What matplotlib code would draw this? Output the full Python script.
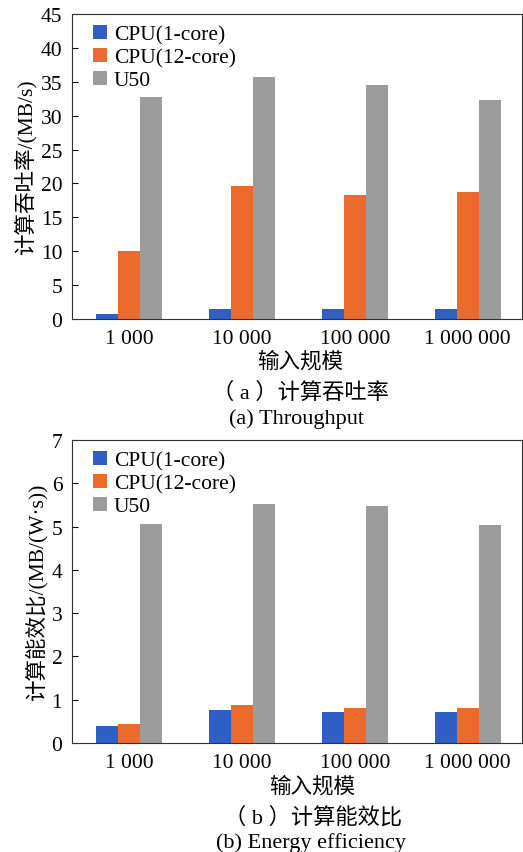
import matplotlib
matplotlib.use("Agg")
import matplotlib.pyplot as plt
import numpy as np

plt.rcParams['font.family'] = ['Liberation Serif', 'Noto Sans CJK SC']
plt.rcParams['axes.unicode_minus'] = False

categories = ["1 000", "10 000", "100 000", "1 000 000"]
series_names = ["CPU(1-core)", "CPU(12-core)", "U50"]
colors = ["#2f5fc4", "#ec6a2c", "#9c9c9c"]

throughput_cpu1 = [0.8, 1.5, 1.5, 1.45]
throughput_cpu12 = [10.0, 19.6, 18.25, 18.7]
throughput_u50 = [32.7, 35.7, 34.5, 32.3]

energy_cpu1 = [0.4, 0.76, 0.71, 0.71]
energy_cpu12 = [0.45, 0.88, 0.80, 0.80]
energy_u50 = [5.05, 5.52, 5.48, 5.03]

fig = plt.figure(figsize=(5.23, 8.53), dpi=100)

FS = 15.5

def draw(ax, data, ylim, yticks, ylabel):
    x = np.arange(len(categories))
    w = 0.195
    for i, (vals, name, c) in enumerate(zip(data, series_names, colors)):
        ax.bar(x + (i - 1) * w, vals, width=w, color=c, label=name, edgecolor='none')
    ax.set_xlim(-0.505, 3.48)
    ax.set_ylim(*ylim)
    ax.set_yticks(yticks)
    ax.set_xticks(x)
    ax.set_xticklabels(categories)
    ax.tick_params(axis='y', direction='in', length=4, labelsize=FS, pad=7)
    ax.tick_params(axis='x', length=0, labelsize=FS, pad=7)
    ax.set_ylabel(ylabel, fontsize=15.5, labelpad=3)
    for s in ax.spines.values():
        s.set_linewidth(0.8)
        s.set_color('#333333')
    ax.legend(loc='upper left', frameon=False, fontsize=FS, handlelength=0.65,
              handleheight=0.65, handletextpad=0.3, labelspacing=0.15,
              borderaxespad=0.0, bbox_to_anchor=(0.028, 0.993))

ax1 = fig.add_axes([0.1377, 0.6248, 0.8604, 0.3576])
draw(ax1, [throughput_cpu1, throughput_cpu12, throughput_u50], (0, 45),
     range(0, 46, 5), "计算吞吐率/(MB/s)")

ax2 = fig.add_axes([0.1377, 0.1278, 0.8604, 0.3552])
draw(ax2, [energy_cpu1, energy_cpu12, energy_u50], (0, 7),
     range(0, 8), "计算能效比/(MB/(W·s))")

fig.text(0.574, 0.5756, "输入规模", ha='center', va='center', fontsize=15.5)
fig.text(0.574, 0.5393, "（ a ）计算吞吐率", ha='center', va='center', fontsize=16)
fig.text(0.566, 0.5088, "(a) Throughput", ha='center', va='center', fontsize=16)

fig.text(0.597, 0.0774, "输入规模", ha='center', va='center', fontsize=15.5)
fig.text(0.599, 0.0410, "（ b ）计算能效比", ha='center', va='center', fontsize=16)
fig.text(0.595, 0.0115, "(b) Energy efficiency", ha='center', va='center', fontsize=16)

fig.savefig("out.png", dpi=100)
